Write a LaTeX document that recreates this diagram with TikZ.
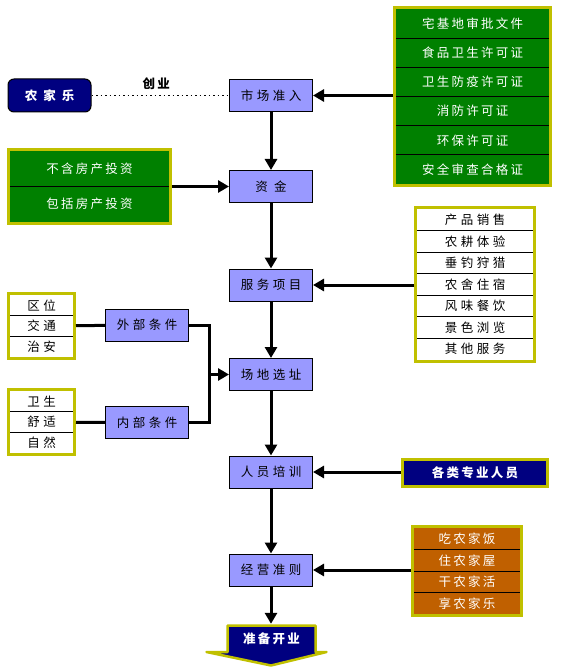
\documentclass[tikz,border=0pt]{standalone}
\usepackage{fontspec}
\setmainfont{Noto Sans CJK SC}[LetterSpace=18]
\newfontfamily\widecjk{Noto Sans CJK SC}[LetterSpace=28]
\newfontfamily\spacedcjk{Noto Sans CJK SC}[LetterSpace=50]
\usetikzlibrary{arrows.meta}
\usetikzlibrary{positioning}
\usetikzlibrary{fit}

\definecolor{stageblue}{RGB}{153,153,255}
\definecolor{listgreen}{RGB}{0,128,0}
\definecolor{frameyellow}{RGB}{192,192,0}
\definecolor{darknavy}{RGB}{0,0,128}
\definecolor{listorange}{RGB}{192,96,0}

\newcommand{\sz}{\fontsize{12.5}{14}\selectfont}

\tikzset{
  stage/.style = {draw, line width=1pt, fill=stageblue, minimum width=83pt, minimum height=32pt, inner sep=0pt, font=\widecjk\sz},
  row/.style = {inner sep=0pt, outer sep=0pt},
  greenrow/.style = {row, fill=listgreen, text=white, font=\sz},
  whiterow/.style = {row, fill=white, font=\widecjk\sz},
  orangerow/.style = {row, fill=listorange, text=white, font=\sz},
  frame/.style = {draw=frameyellow, line width=3pt, inner sep=1.5pt},
  divider/.style = {line width=0.8pt},
  flow/.style = {line width=3pt, -{Triangle[width=12pt,length=11pt]}},
  link/.style = {line width=3pt, line join=miter},
  boldwhite/.style = {text=white, font=\bfseries\sz}
}

\begin{document}
\begin{tikzpicture}[x=1pt, y=-1pt]
\useasboundingbox (0,0) rectangle (561,671);

% main column
\node[stage] (mkt) at (271,95.5) {市场准入};
\node[stage, font=\spacedcjk\sz] (fund) at (271,186.5) {资金};
\node[stage] (serv) at (271,285) {服务项目};
\node[stage] (site) at (271,374.5) {场地选址};
\node[stage] (train) at (271,472) {人员培训};
\node[stage] (rule) at (271,570) {经营准则};

\node[draw, line width=1pt, rounded corners=6pt, fill=darknavy, minimum width=83pt, minimum height=33pt, boldwhite] (farm) at (49.5,95.5) {农\hspace{6pt}家\hspace{6pt}乐};

% permits
\begin{scope}[every node/.append style={minimum width=153pt, minimum height=29.17pt}]
\node[greenrow] (perm1) at (472.5,23.6) {宅基地审批文件};
\node[greenrow, below=0pt of perm1] (perm2) {食品卫生许可证};
\node[greenrow, below=0pt of perm2] (perm3) {卫生防疫许可证};
\node[greenrow, below=0pt of perm3] (perm4) {消防许可证};
\node[greenrow, below=0pt of perm4] (perm5) {环保许可证};
\node[greenrow, below=0pt of perm5] (perm6) {安全审查合格证};
\end{scope}
\foreach \i in {1,...,5}
  \draw[divider] (perm\i.south west) -- (perm\i.south east);
\node[frame, fit=(perm1)(perm6)] (permits) {};

% investment
\begin{scope}[every node/.append style={minimum width=159pt, minimum height=35.5pt}]
\node[greenrow] (inv1) at (89.5,168.75) {不含房产投资};
\node[greenrow, below=0pt of inv1] (inv2) {包括房产投资};
\end{scope}
\draw[divider] (inv1.south west) -- (inv1.south east);
\node[frame, fit=(inv1)(inv2)] (invest) {};

% services
\begin{scope}[every node/.append style={minimum width=116pt, minimum height=21.57pt}]
\node[whiterow] (svc1) at (475,219.8) {产品销售};
\node[whiterow, below=0pt of svc1] (svc2) {农耕体验};
\node[whiterow, below=0pt of svc2] (svc3) {垂钓狩猎};
\node[whiterow, below=0pt of svc3] (svc4) {农舍住宿};
\node[whiterow, below=0pt of svc4] (svc5) {风味餐饮};
\node[whiterow, below=0pt of svc5] (svc6) {景色浏览};
\node[whiterow, below=0pt of svc6] (svc7) {其他服务};
\end{scope}
\foreach \i in {1,...,6}
  \draw[divider] (svc\i.south west) -- (svc\i.south east);
\node[frame, fit=(svc1)(svc7)] (services) {};

% site conditions
\begin{scope}[every node/.append style={minimum width=63pt, minimum height=20.7pt, font=\spacedcjk\sz}]
\node[whiterow] (ext1) at (41.5,305.3) {区位};
\node[whiterow, below=0pt of ext1] (ext2) {交通};
\node[whiterow, below=0pt of ext2] (ext3) {治安};
\node[whiterow] (int1) at (41.5,401.5) {卫生};
\node[whiterow, below=0pt of int1] (int2) {舒适};
\node[whiterow, below=0pt of int2] (int3) {自然};
\end{scope}
\foreach \i in {1,2} {
  \draw[divider] (ext\i.south west) -- (ext\i.south east);
  \draw[divider] (int\i.south west) -- (int\i.south east);
}
\node[frame, fit=(ext1)(ext3)] (extlist) {};
\node[frame, fit=(int1)(int3)] (intlist) {};

\node[stage] (outer) at (147,325) {外部条件};
\node[stage] (inner) at (147,422.5) {内部条件};

% staff
\node[draw=frameyellow, line width=3pt, fill=darknavy, minimum width=145pt, minimum height=27pt, inner sep=0pt, boldwhite] (staff) at (475,473) {各类专业人员};

% slogans
\begin{scope}[every node/.append style={minimum width=106pt, minimum height=21.5pt}]
\node[orangerow] (slo1) at (467,538.75) {吃农家饭};
\node[orangerow, below=0pt of slo1] (slo2) {住农家屋};
\node[orangerow, below=0pt of slo2] (slo3) {干农家活};
\node[orangerow, below=0pt of slo3] (slo4) {享农家乐};
\end{scope}
\foreach \i in {1,...,3}
  \draw[divider] (slo\i.south west) -- (slo\i.south east);
\node[frame, fit=(slo1)(slo4)] (slogans) {};

% opening
\draw[draw=frameyellow, line width=2.5pt, line join=round, fill=darknavy] (227.5,625.5) -- (315.5,625.5) -- (315.5,652) -- (326.5,652) -- (271,665.5) -- (206.5,652) -- (227.5,652) -- cycle;
\node[minimum width=91pt, minimum height=29pt, inner sep=0pt, boldwhite] (open) at (271.5,638.5) {准备开业};

% connectors
\draw[line width=1pt, dash pattern=on 1.5pt off 3pt] (farm) -- node[above=5pt, pos=0.47, inner sep=0pt, font=\bfseries\sz] {创业} (mkt);

\draw[flow] (mkt) -- (fund);
\draw[flow] (fund) -- (serv);
\draw[flow] (serv) -- (site);
\draw[flow] (site) -- (train);
\draw[flow] (train) -- (rule);
\draw[flow] (rule) -- (rule |- open.north);

\draw[flow] (permits.west |- mkt) -- (mkt);
\draw[flow] (invest) -- (fund);
\draw[flow] (services.west |- serv) -- (serv);
\draw[flow] (staff.west |- train) -- (train);
\draw[flow] (slogans.west |- rule) -- (rule);

\draw[link] (extlist) -- (outer);
\draw[link] (intlist) -- (inner);
\coordinate (join) at (209,374.5);
\draw[link] (outer.east) -| (join) |- (inner.east);
\draw[flow] (join) -- (site);

\end{tikzpicture}
\end{document}
